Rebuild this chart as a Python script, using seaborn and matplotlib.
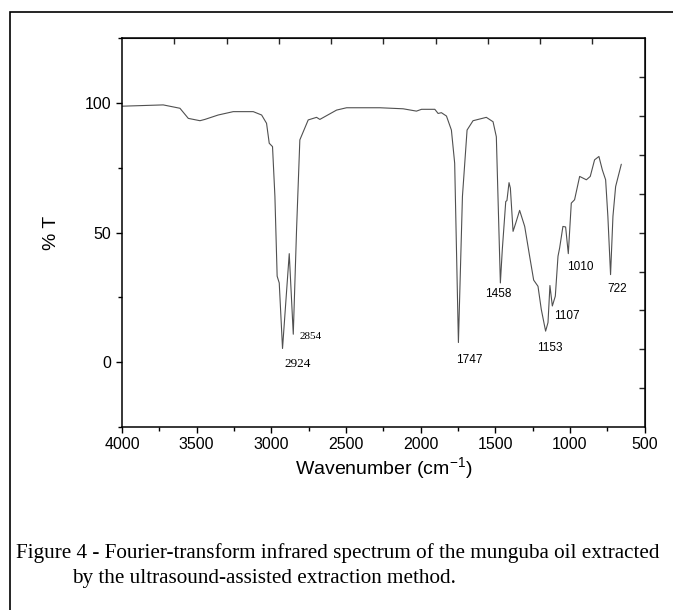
import seaborn as sns
import matplotlib.pyplot as plt
import matplotlib.patches as mpatches
import pandas as pd

# FTIR spectrum
wavenumber = [4000, 3724, 3612, 3556, 3478, 3445, 3356, 3255, 3121, 3065, 3032, 3014,
              2992, 2976, 2961, 2947, 2925, 2880, 2853, 2831, 2809, 2753, 2697, 2675,
              2563, 2496, 2273, 2117, 2028, 1994, 1905, 1883, 1861, 1827, 1794, 1772,
              1747, 1720, 1689, 1649, 1560, 1515, 1493, 1482, 1466, 1453, 1430, 1422,
              1408, 1399, 1381, 1363, 1337, 1303, 1270, 1243, 1214, 1192, 1163, 1147,
              1134, 1118, 1098, 1080, 1069, 1047, 1029, 1011, 991, 969, 935, 890, 864,
              835, 806, 783, 761, 746, 728, 712, 694, 656]
transmittance = [98.8, 99.3, 98.0, 94.1, 93.2, 93.7, 95.4, 96.7, 96.7, 95.4, 92.2, 84.5,
                 83.2, 64.0, 33.2, 30.6, 5.3, 41.9, 10.8, 51.2, 85.8, 93.5, 94.5, 93.7,
                 97.3, 98.2, 98.2, 97.8, 96.9, 97.6, 97.6, 96.0, 96.3, 95.0, 89.6, 76.8,
                 7.6, 64.0, 89.6, 93.2, 94.5, 92.8, 87.0, 64.0, 30.6, 43.5, 62.0, 62.4,
                 69.3, 67.2, 50.5, 53.7, 58.6, 52.4, 40.9, 31.7, 29.3, 20.4, 12.0, 15.3,
                 29.6, 21.7, 25.5, 40.9, 44.1, 52.4, 52.2, 41.9, 61.4, 62.7, 71.7, 70.4,
                 71.7, 78.1, 79.4, 74.2, 70.4, 56.3, 33.8, 56.3, 67.8, 76.4]

peak_labels = ["2924", "2854", "1747", "1458", "1153", "1107", "1010", "722"]
label_x = [2822, 2737, 1671, 1479, 1134, 1020, 933, 687]
label_y = [-0.8, 9.8, 0.8, 26.2, 5.6, 17.8, 36.7, 28.4]

df = pd.DataFrame({"wn": wavenumber, "T": transmittance})

sns.set_style("ticks")
plt.rcParams["font.family"] = ["Liberation Sans", "DejaVu Sans"]
plt.rcParams["text.color"] = "black"
plt.rcParams["axes.labelcolor"] = "black"
plt.rcParams["mathtext.fontset"] = "custom"
plt.rcParams["mathtext.rm"] = "Liberation Sans"
plt.rcParams["mathtext.it"] = "Liberation Sans"
plt.rcParams["mathtext.default"] = "regular"

fig = plt.figure(figsize=(6.73, 6.10), dpi=100)
ax = fig.add_axes([0.1813, 0.300, 0.7765, 0.6372])

sns.lineplot(data=df, x="wn", y="T", ax=ax, color="#505050", linewidth=0.8)

ax.set_xlim(4000, 500)
ax.set_ylim(-25, 125)
ax.set_xticks([4000, 3500, 3000, 2500, 2000, 1500, 1000, 500])
ax.set_xticks([3750, 3250, 2750, 2250, 1750, 1250, 750], minor=True)
ax.set_yticks([0, 50, 100])
ax.set_yticks([-25, 25, 75, 125], minor=True)
ax.tick_params(axis="both", which="major", labelsize=11.5, length=4, width=1, direction="out", colors="black")
ax.tick_params(axis="both", which="minor", length=3, width=1, direction="out", colors="black")
for s in ax.spines.values():
    s.set_linewidth(1.1)
    s.set_color("black")

# top and right axes carry their own tick marks, no labels
top = ax.secondary_xaxis("top")
top.set_xticks([3650, 3300, 2950, 2600, 2250, 1900, 1550, 1200, 850])
top.tick_params(direction="in", length=4, width=1, labeltop=False)
right = ax.secondary_yaxis("right")
right.set_yticks([110, 95, 80, 65, 50, 35, 20, 5, -10])
right.tick_params(direction="in", length=4, width=1, labelright=False)

ax.set_xlabel("Wavenumber (cm$^{-1}$)", fontsize=14, labelpad=2)
ax.set_ylabel("% T", fontsize=14, labelpad=18)

for lab, lx, ly in zip(peak_labels, label_x, label_y):
    if lab == "2924":
        ax.text(lx, ly, lab, ha="center", va="center", fontsize=9.5, family="Liberation Serif")
    elif lab == "2854":
        ax.text(lx, ly, lab, ha="center", va="center", fontsize=8, family="Liberation Serif")
    else:
        ax.text(lx, ly, lab, ha="center", va="center", fontsize=8.5)

fig.text(16 / 673, 1 - 553 / 610,
         "Figure 4 - Fourier-transform infrared spectrum of the munguba oil extracted",
         fontsize=15.2, family="Liberation Serif", va="center", ha="left")
fig.text(72 / 673, 1 - 578 / 610, "by the ultrasound-assisted extraction method.",
         fontsize=15.2, family="Liberation Serif", va="center", ha="left")

# frame around the figure (right and bottom edges fall outside the image)
fig.patches.append(mpatches.Rectangle((10 / 673, -0.1), 1.2, 1 - 12 / 610 + 0.1,
                                      transform=fig.transFigure, fill=False,
                                      edgecolor="black", linewidth=1.2))

fig.savefig("out.png", dpi=100)
